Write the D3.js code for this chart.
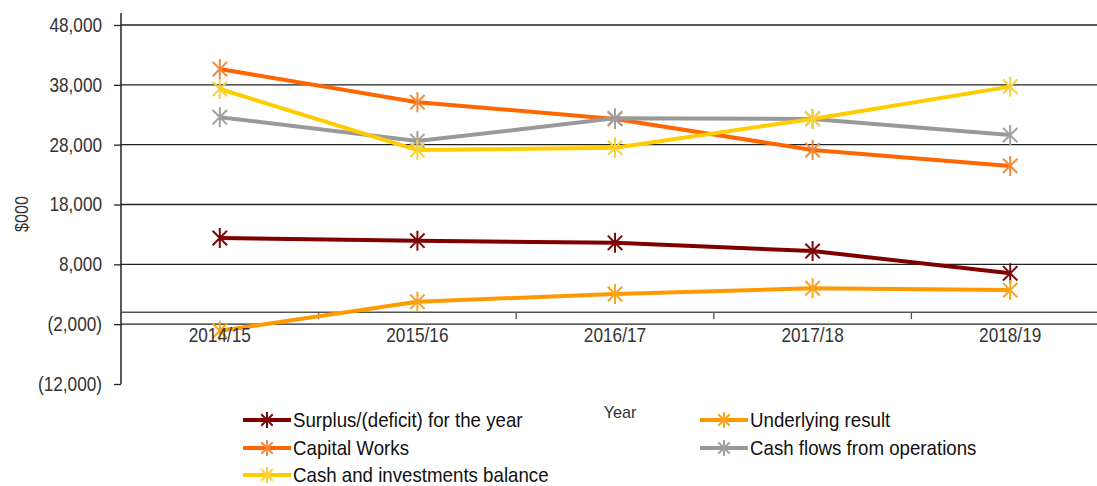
<!DOCTYPE html>
<html>
<head>
<meta charset="utf-8">
<script src="https://cdn.jsdelivr.net/npm/d3@7"></script>
<style>
  html, body { margin: 0; padding: 0; background: #fff; }
  svg { display: block; }
  text { font-family: "Liberation Sans Narrow", "Arial Narrow", "Liberation Sans", Arial, sans-serif; }
</style>
</head>
<body>
<svg id="chart" width="1097" height="486"></svg>
<script>
// Financial performance summary, $000
const years = ["2014/15", "2015/16", "2016/17", "2017/18", "2018/19"];
const surplus = [12400, 11950, 11600, 10230, 6500];
const underlying = [-3100, 1750, 3040, 4000, 3700];
const capitalWorks = [40640, 35100, 32300, 27100, 24440];
const cashFlows = [32600, 28600, 32400, 32300, 29600];
const cashInvestments = [37300, 27100, 27500, 32300, 37700];
const yTicks = [-12000, -2000, 8000, 18000, 28000, 38000, 48000];

const series = [
  { name: "Surplus/(deficit) for the year", values: surplus, color: "#800000", marker: "#7a0a0a" },
  { name: "Underlying result", values: underlying, color: "#ff9900", marker: "#f5a623" },
  { name: "Capital Works", values: capitalWorks, color: "#ff6600", marker: "#f28a3c" },
  { name: "Cash flows from operations", values: cashFlows, color: "#999999", marker: "#a0a0a0" },
  { name: "Cash and investments balance", values: cashInvestments, color: "#ffcc00", marker: "#f7d23c" }
];

const svg = d3.select("#chart");
const plotLeft = 121, plotRight = 1109, plotTop = 25, plotBottom = 384;

const x = d3.scaleBand().domain(years).range([plotLeft, plotRight]).padding(0);
const y = d3.scaleLinear().domain([-12000, 48000]).range([plotBottom, plotTop]);

const fmt = v => v < 0 ? "(" + d3.format(",")(-v) + ")" : d3.format(",")(v);

// narrow the glyphs of a text selection horizontally (condensed face look)
const condense = (sel, k) => sel.each(function () {
  const w = this.getComputedTextLength();
  d3.select(this).attr("textLength", w * k).attr("lengthAdjust", "spacingAndGlyphs");
});

// horizontal gridlines
svg.append("g")
  .selectAll("line")
  .data(yTicks.filter(t => t > -12000))
  .join("line")
  .attr("x1", plotLeft).attr("x2", plotRight)
  .attr("y1", d => y(d)).attr("y2", d => y(d))
  .attr("stroke", "#222").attr("stroke-width", 1.3);

// value axis
const yAxis = svg.append("g")
  .attr("transform", `translate(${plotLeft},0)`)
  .call(d3.axisLeft(y).tickValues(yTicks).tickFormat(fmt).tickSize(7).tickPadding(12));
yAxis.select(".domain").remove();
yAxis.selectAll(".tick line").attr("stroke", "#222").attr("stroke-width", 1.3);
yAxis.attr("font-family", null);
yAxis.selectAll(".tick text")
  .attr("font-size", 20).attr("fill", "#333")
  .call(condense, 0.86);
svg.append("line")
  .attr("x1", plotLeft).attr("x2", plotLeft)
  .attr("y1", 13).attr("y2", plotBottom)
  .attr("stroke", "#222").attr("stroke-width", 1.5);

// category axis at zero
const zeroY = y(0);
svg.append("line")
  .attr("x1", plotLeft).attr("x2", plotRight)
  .attr("y1", zeroY).attr("y2", zeroY)
  .attr("stroke", "#555").attr("stroke-width", 1.5);
svg.append("g")
  .selectAll("line")
  .data(d3.range(years.length + 1))
  .join("line")
  .attr("x1", i => plotLeft + i * x.step()).attr("x2", i => plotLeft + i * x.step())
  .attr("y1", zeroY).attr("y2", zeroY + 7)
  .attr("stroke", "#555").attr("stroke-width", 1.3);

// series lines
const line = d3.line()
  .x((d, i) => x(years[i]) + x.bandwidth() / 2)
  .y(d => y(d));

const star = (g, cx, cy, r, color) => {
  const p = d3.path();
  const a = r * 0.72;
  p.moveTo(cx - a, cy - a); p.lineTo(cx + a, cy + a);
  p.moveTo(cx + a, cy - a); p.lineTo(cx - a, cy + a);
  p.moveTo(cx, cy - r); p.lineTo(cx, cy + r);
  g.append("path").attr("d", p.toString())
    .attr("stroke", color).attr("stroke-width", 2).attr("fill", "none");
};

series.forEach(s => {
  const g = svg.append("g");
  g.append("path")
    .attr("d", line(s.values))
    .attr("fill", "none")
    .attr("stroke", s.color)
    .attr("stroke-width", 4)
    .attr("stroke-linejoin", "round");
  s.values.forEach((v, i) => star(g, x(years[i]) + x.bandwidth() / 2, y(v), 10, s.marker));
});

// category labels
svg.append("g")
  .selectAll("text")
  .data(years)
  .join("text")
  .attr("x", d => x(d) + x.bandwidth() / 2)
  .attr("y", zeroY + 30)
  .attr("text-anchor", "middle")
  .attr("font-size", 21)
  .attr("fill", "#333")
  .text(d => d)
  .call(condense, 0.82);

// axis titles
svg.append("text")
  .attr("transform", "translate(28,214) rotate(-90)")
  .attr("text-anchor", "middle")
  .attr("font-size", 19)
  .attr("fill", "#333")
  .text("$000")
  .call(condense, 0.85);
svg.append("text")
  .attr("x", 620).attr("y", 418)
  .attr("text-anchor", "middle")
  .attr("font-size", 17)
  .attr("fill", "#333")
  .text("Year")
  .call(condense, 0.95);

// legend
const legendPos = [
  [243, 420], [700, 420],
  [243, 448], [700, 448],
  [243, 475]
];
series.forEach((s, k) => {
  const [lx, ly] = legendPos[k];
  const g = svg.append("g");
  g.append("line")
    .attr("x1", lx).attr("x2", lx + 48)
    .attr("y1", ly).attr("y2", ly)
    .attr("stroke", s.color).attr("stroke-width", 4);
  star(g, lx + 24, ly, 8, s.marker);
  g.append("text")
    .attr("x", lx + 50).attr("y", ly + 7)
    .attr("font-size", 21)
    .attr("fill", "#111")
    .text(s.name)
    .call(condense, 0.89);
});
</script>
</body>
</html>
